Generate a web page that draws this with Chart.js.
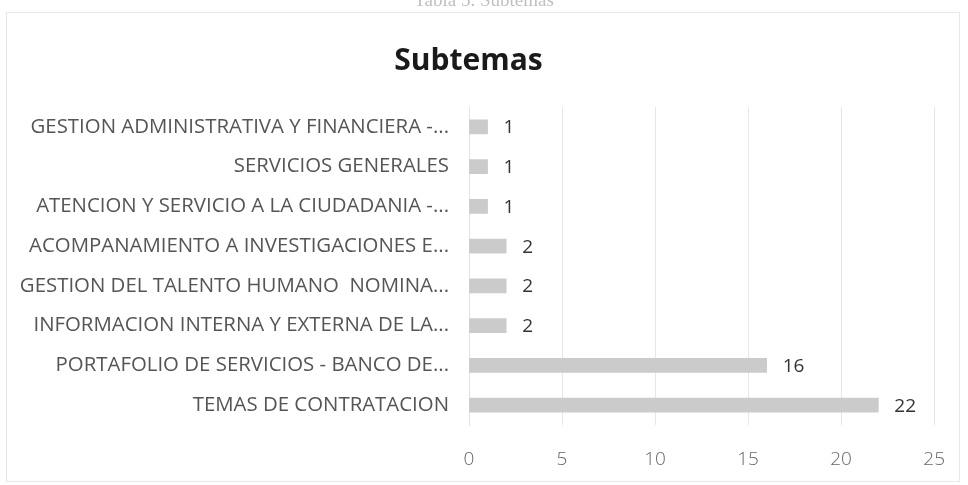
<!DOCTYPE html>
<html>
<head>
<meta charset="utf-8">
<script src="https://cdn.jsdelivr.net/npm/chart.js@4/dist/chart.umd.min.js"></script>
<style>
  html, body { margin: 0; padding: 0; background: #fff; }
  #wrap { position: relative; width: 968px; height: 485px; overflow: hidden; }
  #bleed {
    position: absolute; top: -11px; left: 0; width: 968px; text-align: center;
    font-family: "Liberation Serif", serif; font-size: 19px; color: #c0c0c0;
  }
</style>
</head>
<body>
<div id="wrap">
  <canvas id="chart" width="968" height="485"></canvas>
  <div id="bleed">Tabla 5. Subtemas</div>
</div>
<script>
const title = "Subtemas"

const categories = [
    "GESTION ADMINISTRATIVA Y FINANCIERA -...",
    "SERVICIOS GENERALES",
    "ATENCION Y SERVICIO A LA CIUDADANIA -...",
    "ACOMPANAMIENTO A INVESTIGACIONES E...",
    "GESTION DEL TALENTO HUMANO  NOMINA...",
    "INFORMACION INTERNA Y EXTERNA DE LA...",
    "PORTAFOLIO DE SERVICIOS - BANCO DE...",
    "TEMAS DE CONTRATACION",
]

const values = [1, 1, 1, 2, 2, 2, 16, 22]

const xMin = 0
const xMax = 25
const xStep = 5

// value labels at the end of each bar
const barValues = {
    id: "barValues",
    afterDatasetsDraw(chart) {
        const c = chart.ctx
        c.save()
        c.font = "400 19px 'Open Sans'"
        c.fillStyle = "#333"
        c.textAlign = "left"
        c.textBaseline = "middle"
        chart.getDatasetMeta(0).data.forEach((bar, i) => {
            c.fillText(values[i], bar.x + 16, bar.y + 1)
        })
        c.restore()
    }
}

// faint outline of the chart box
const frame = {
    id: "frame",
    beforeDraw(chart) {
        const c = chart.ctx
        c.save()
        c.strokeStyle = "#e8e8e8"
        c.lineWidth = 1
        c.strokeRect(6.5, 12.5, 953, 469)
        c.restore()
    }
}

new Chart(document.querySelector("#chart"), {
    type: "bar",
    data: {
        labels: categories,
        datasets: [{
            data: values,
            backgroundColor: "#cbcbcb",
            borderWidth: 0,
            barThickness: 14,
        }]
    },
    options: {
        indexAxis: "y",
        responsive: false,
        animation: false,
        layout: {
            padding: {left: 0, right: 31, top: 0, bottom: 18}
        },
        scales: {
            x: {
                min: xMin,
                max: xMax,
                afterFit: (scale) => { scale.height = 42 },
                ticks: {
                    stepSize: xStep,
                    padding: 23,
                    color: "#666",
                    font: {family: "Open Sans", size: 19, weight: 300}
                },
                grid: {
                    color: "#e6e6e6",
                    drawTicks: false
                },
                border: {display: false}
            },
            y: {
                afterFit: (scale) => { scale.width = 469 },
                ticks: {
                    padding: 20,
                    color: "#555",
                    font: {family: "Open Sans", size: 20.4, weight: 400}
                },
                grid: {display: false, drawTicks: false},
                border: {display: true, color: "#e2e2e2"}
            }
        },
        plugins: {
            legend: {display: false},
            tooltip: {enabled: false},
            title: {
                display: true,
                text: title,
                color: "#1a1a1a",
                font: {family: "Open Sans", size: 30, weight: "bold"},
                padding: {top: 43, bottom: 28}
            }
        }
    },
    plugins: [frame, barValues]
})
</script>
</body>
</html>
